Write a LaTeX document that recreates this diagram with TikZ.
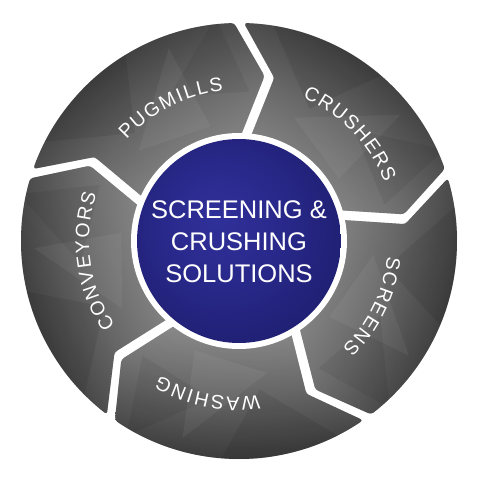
\documentclass[tikz,border=0pt]{standalone}
\usepackage{fontspec}
\setmainfont{Liberation Sans}
\newfontfamily\lblfam{Liberation Sans}
\newcommand\lblfont{\lblfam\fontsize{19.5}{20}\selectfont}
\newcommand\ctrfont{\lblfam\fontsize{25.5}{32}\selectfont}
\definecolor{gA}{HTML}{848484}
\definecolor{gB}{HTML}{767676}
\definecolor{gC}{HTML}{5A5A5A}
\definecolor{blA}{HTML}{30309A}
\definecolor{blB}{HTML}{29298C}
\definecolor{blC}{HTML}{1F1F72}
\pgfdeclareradialshading{ringsh}{\pgfpoint{0bp}{0bp}}{color(0bp)=(gA); color(12bp)=(gA); color(18bp)=(gB); color(25bp)=(gC); color(50bp)=(gC)}
\pgfdeclareradialshading{bluesh}{\pgfpoint{-6bp}{6bp}}{color(0bp)=(blA); color(14bp)=(blB); color(30bp)=(blC); color(50bp)=(blC)}
% Arial / Liberation Sans advance widths (em)
\def\wdA{0.667}\def\wdC{0.722}\def\wdE{0.667}\def\wdG{0.778}\def\wdH{0.722}
\def\wdI{0.278}\def\wdL{0.556}\def\wdM{0.833}\def\wdN{0.722}\def\wdO{0.778}
\def\wdP{0.667}\def\wdR{0.722}\def\wdS{0.667}\def\wdU{0.722}\def\wdV{0.667}
\def\wdW{0.944}\def\wdY{0.667}
\def\lblsize{19.5}
\def\Ro{218}\def\Rt{167}\def\Ri{104}
\def\Do{1.3}\def\Dt{1.7}\def\Di{2.75}
\def\dT{10.5}\def\eI{3.5}
\newcommand\segpath[2]{(#1-\Do:\Ro) arc[start angle=#1-\Do, end angle=#2+\Do, radius=\Ro] -- (#2-\dT+\Dt:\Rt) -- (#2-\eI+\Di:\Ri) arc[start angle=#2-\eI+\Di, end angle=#1-\eI-\Di, radius=\Ri] -- (#1-\dT-\Dt:\Rt) -- cycle}
\newcommand\segment[3]{% #1 start gap, #2 end gap, #3 shading angle
  \begin{scope}
    \clip[rounded corners=3pt] \segpath{#1}{#2};
    \shade[shading=ringsh] (0,0) circle (\Ro);
    \shade[left color=black, right color=gray!85, shading angle=#3, fill opacity=0.4] \segpath{#1}{#2};
    \pgfmathsetmacro\mm{(#1+#2)/2}
    \fill[black, fill opacity=0.08] (\mm+28:225) -- (\mm+8:150) -- (\mm-6:230) -- cycle;
    \fill[white, fill opacity=0.05] (\mm+12:135) -- (\mm-22:118) -- (\mm-16:205) -- cycle;
    \fill[black, fill opacity=0.06] (\mm-10:160) -- (\mm-40:150) -- (\mm-30:225) -- cycle;
  \end{scope}}
\newcommand\arcword[4]{% #1 center angle, #2 radius of letter centre, #3 tracking, #4 letters
  \gdef\totw{0}%
  \foreach \ch in {#4}{\pgfmathsetmacro\tmp{\totw+\lblsize*\csname wd\ch\endcsname+#3}\global\let\totw\tmp}%
  \pgfmathsetmacro\tmp{\totw-#3}\global\let\totw\tmp
  \gdef\cumw{0}%
  \foreach \ch in {#4}{%
    \pgfmathsetmacro\cw{\lblsize*\csname wd\ch\endcsname}%
    \pgfmathsetmacro\ang{#1+(0.5*\totw-\cumw-0.5*\cw)/(#2)*180/pi}%
    \pgfmathsetmacro\rr{#2-7}%
    \node[lbl, rotate=\ang-90] at (\ang:\rr) {\ch};
    \pgfmathsetmacro\tmp{\cumw+\cw+#3}\global\let\cumw\tmp
  }%
}
\tikzset{
  lbl/.style={text=white, font=\lblfont, inner sep=0pt, anchor=base},
  ctr/.style={text=white, font=\ctrfont, align=center, inner sep=0pt}
}
\begin{document}
\begin{tikzpicture}[x=1pt,y=1pt]
\useasboundingbox (-239,-239) rectangle (241,241);
% segments: start gap, end gap, shading angle (mid-90)
\segment{162}{90}{36}
\segment{90}{18}{-36}
\segment{18}{-54}{-108}
\segment{-54}{-126}{-180}
\segment{-126}{-198}{-252}
% centre disc
\fill[white] (0,0) circle (108);
\shade[shading=bluesh] (0,0) circle (102);
\node[ctr] (hub) at (0,-1) {SCREENING \&\\CRUSHING\\SOLUTIONS};
% labels
\arcword{117}{158}{2.4}{P,U,G,M,I,L,L,S}
\arcword{44}{164}{2.4}{C,R,U,S,H,E,R,S}
\arcword{-26}{156}{2.4}{S,C,R,E,E,N,S}
\arcword{-101.5}{163}{2.4}{W,A,S,H,I,N,G}
\arcword{188}{157}{2.4}{C,O,N,V,E,Y,O,R,S}
\end{tikzpicture}
\end{document}
